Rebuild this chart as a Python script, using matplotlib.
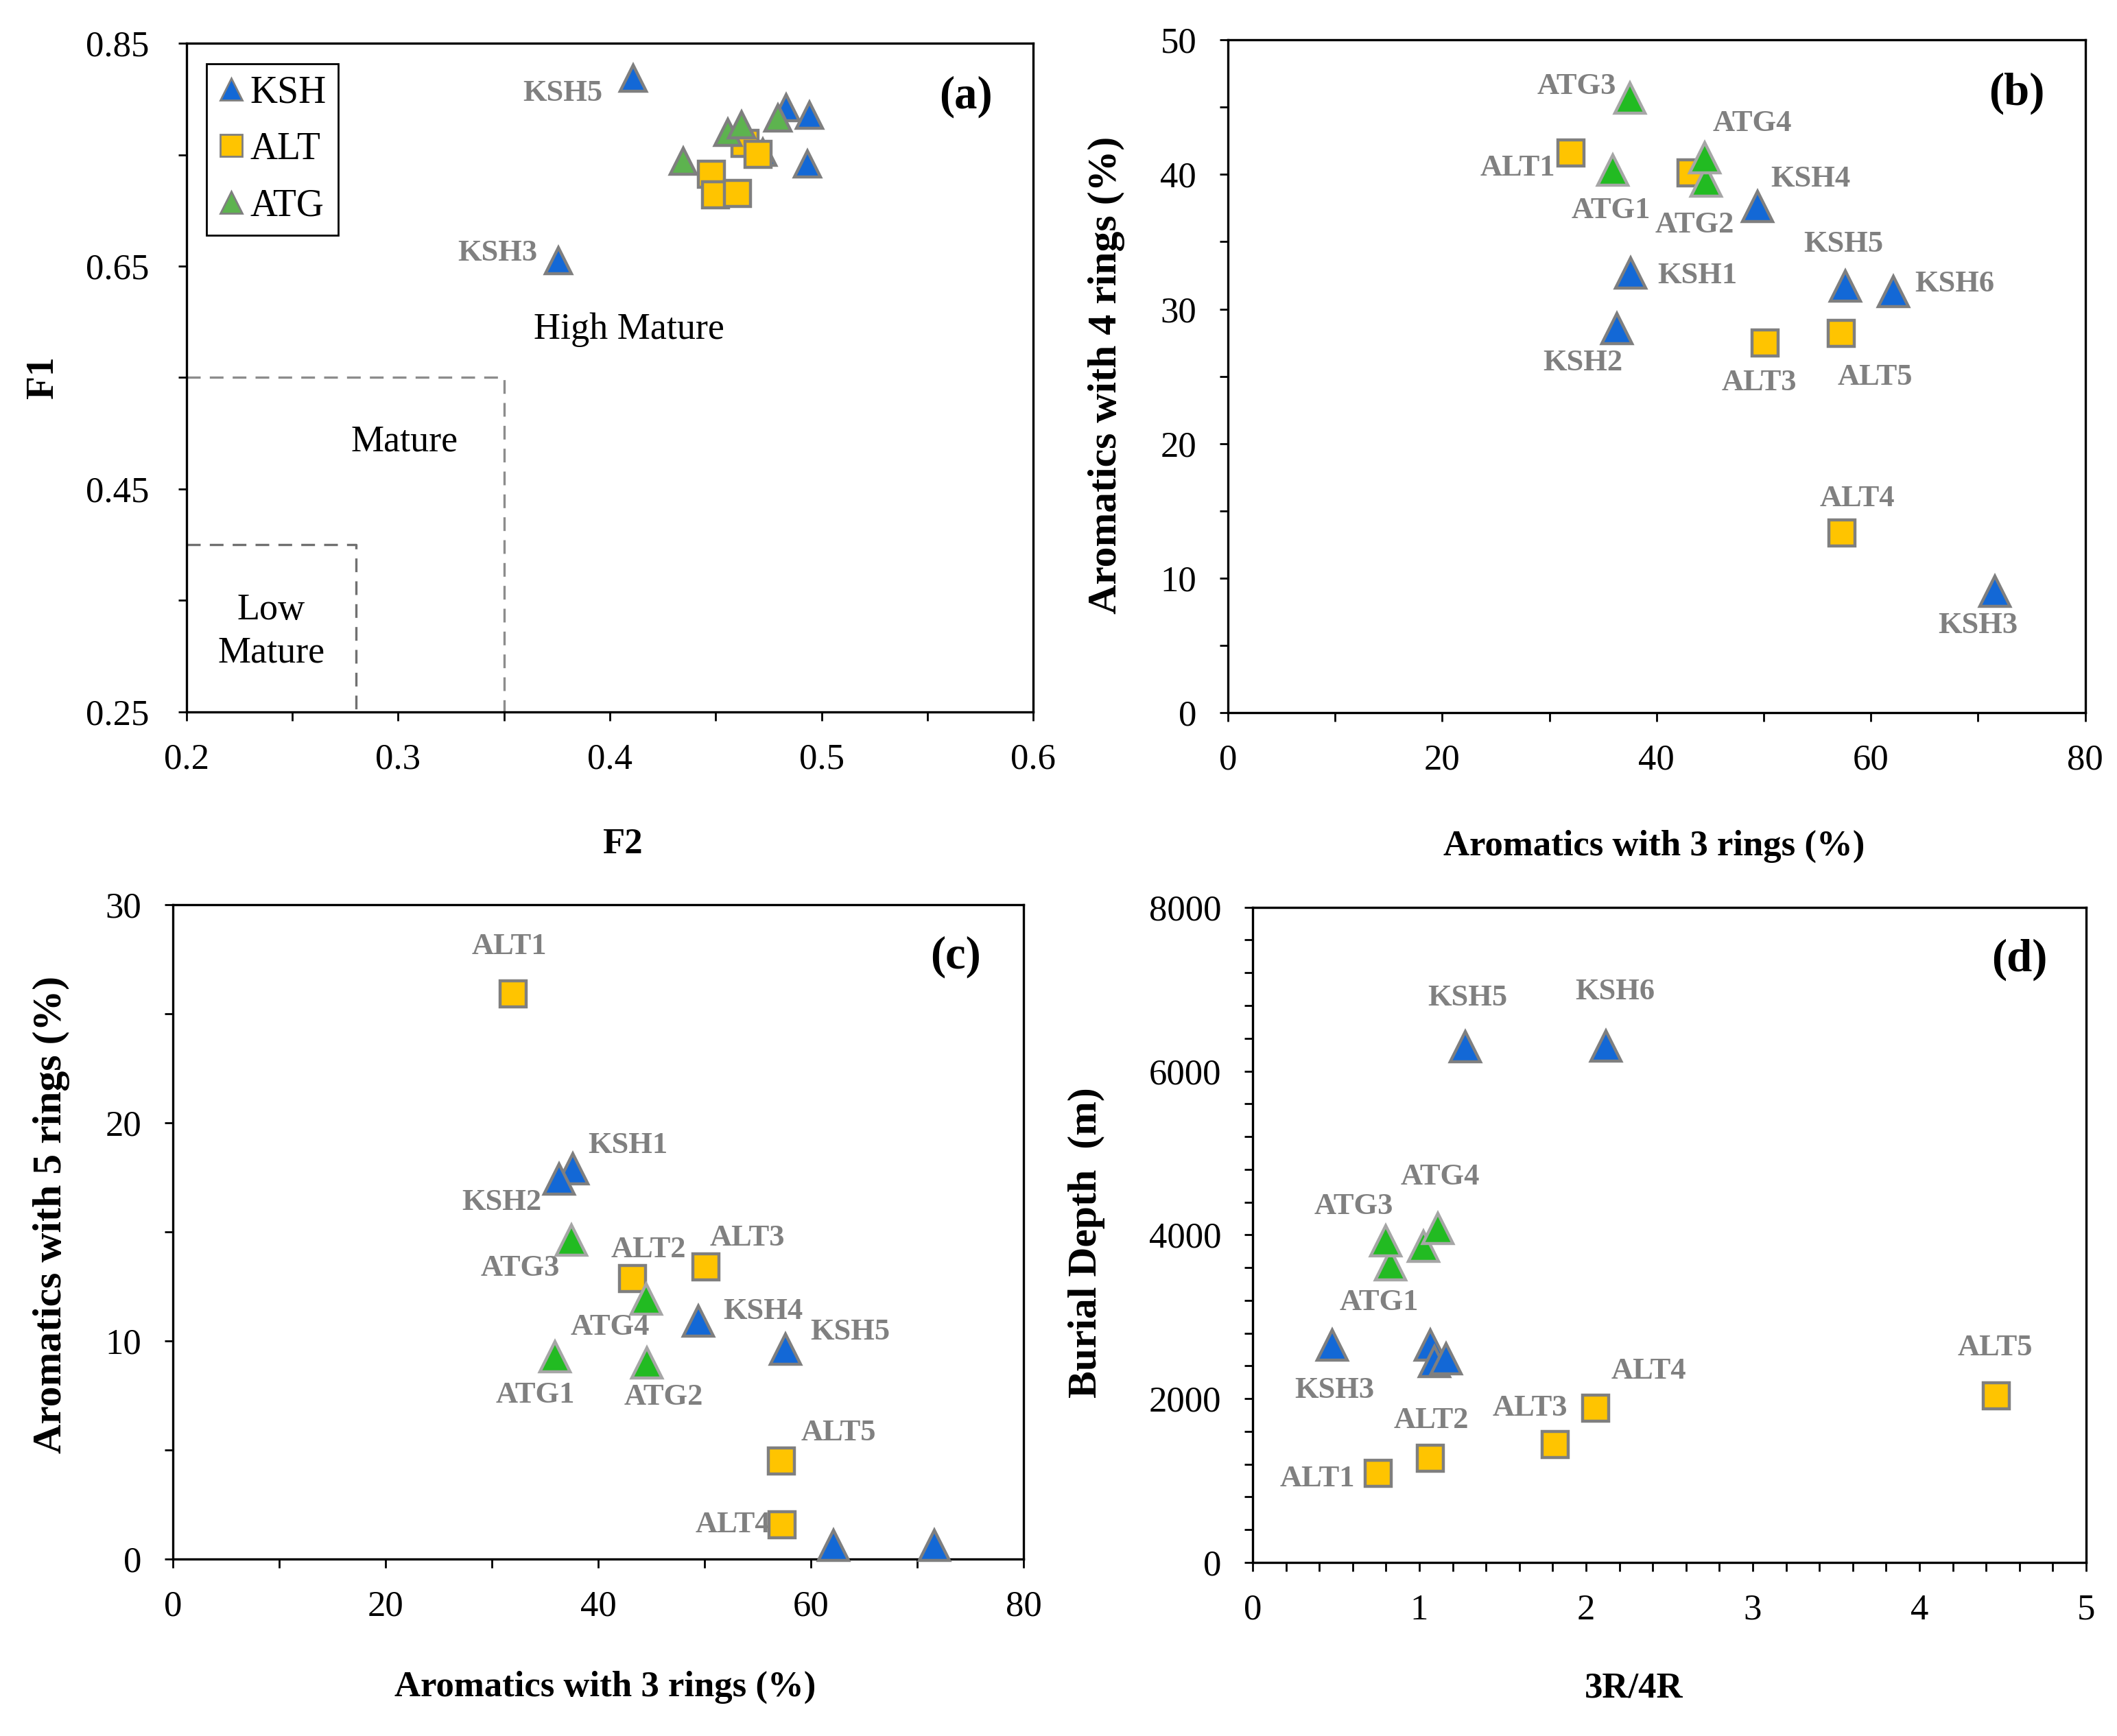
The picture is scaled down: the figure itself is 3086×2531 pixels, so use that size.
import matplotlib
matplotlib.use('Agg')
import matplotlib.pyplot as plt
from matplotlib.ticker import MultipleLocator, FormatStrFormatter
from matplotlib.lines import Line2D

plt.rcParams['font.family'] = ['Liberation Serif', 'DejaVu Serif']

# ============== data ==============
ksh_names = ['KSH1', 'KSH2', 'KSH3', 'KSH4', 'KSH5', 'KSH6']
alt_names = ['ALT1', 'ALT2', 'ALT3', 'ALT4', 'ALT5']
atg_names = ['ATG1', 'ATG2', 'ATG3', 'ATG4']

# (a) F2 vs F1
ksh_f2 = [0.4723, 0.4932, 0.3757, 0.4943, 0.411, 0.4833]
ksh_f1 = [0.7523, 0.742, 0.655, 0.7855, 0.819, 0.7923]
alt_f2 = [0.448, 0.4637, 0.4498, 0.4602, 0.470]
alt_f1 = [0.7328, 0.7605, 0.7143, 0.7153, 0.7502]
atg_f2 = [0.4347, 0.4556, 0.4622, 0.4793]
atg_f1 = [0.7445, 0.770, 0.7769, 0.783]

# aromatics with 3, 4 and 5 rings (%)
ksh_r3 = [37.6, 36.3, 71.6, 49.4, 57.6, 62.1]
alt_r3 = [32.0, 43.2, 50.1, 57.3, 57.2]
atg_r3 = [35.9, 44.6, 37.5, 44.5]

ksh_r4 = [32.7, 28.55, 9.0, 37.6, 31.7, 31.3]
alt_r4 = [41.6, 40.1, 27.5, 13.35, 28.2]
atg_r4 = [40.3, 39.5, 45.7, 41.25]

ksh_r5 = [17.9, 17.4, 0.63, 10.9, 9.6, 0.63]
alt_r5 = [25.9, 12.85, 13.4, 1.57, 4.5]
atg_r5 = [9.27, 9.0, 14.6, 11.9]

# (d) 3R/4R vs burial depth (m)
ksh_ratio = [1.067, 1.09, 0.479, 1.16, 1.274, 2.118]
ksh_depth = [2657, 2454, 2657, 2488, 6295, 6308]
alt_ratio = [0.755, 1.067, 1.814, 2.058, 4.46]
alt_depth = [1089, 1271, 1440, 1886, 2035]
atg_ratio = [0.828, 1.023, 0.80, 1.112]
atg_depth = [3638, 3861, 3928, 4077]

# maturity zone limits in (a): (F2 limit, F1 limit)
mature_limit = (0.35, 0.55)
low_mature_limit = (0.28, 0.40)

# label offsets (points), None = not labelled
a_ksh_off = [None, None, (-32, 4), None, (-37, -8), None]
b_ksh_off = [(35, -1.5), (-18, -18), (-9, -18), (28, 14.5), (-1, 22), (32, 4)]
b_alt_off = [(-28, -8), None, (-3, -21), (8, 18), (18, -23)]
b_atg_off = [(-1, -21), (-6, -23), (-28, 6), (25, 18)]
c_ksh_off = [(29, 12), (-30, -12), None, (34, 5), (34, 9), None]
c_alt_off = [(-2, 25), (8.5, 15), (22, 15), (-26, 0), (30, 14.5)]
c_atg_off = [(-10, -20), (8.5, -18), (-27, -14.5), (-19, -14.5)]
d_ksh_off = [None, None, (1, -24), None, (1.5, 25.5), (5, 28.5)]
d_alt_off = [(-32, -3), (0.5, 20), (-13, 19), (28, 19.5), (-0.5, 25)]
d_atg_off = [(-6, -20), None, (-17, 18), (1, 27)]

# ============== styles ==============
blue = '#1368D6'
yellow = '#FFC400'
green_a = '#5DB34F'
green = '#22BB22'
edge = '#7F7F7F'
edge_light = '#A6A6A6'
label_col = '#808080'


def draw_group(ax, x, y, names, offsets, marker, face, ec, ms):
    ax.plot(x, y, linestyle='none', marker=marker, markersize=ms,
            markerfacecolor=face, markeredgecolor=ec, markeredgewidth=1.6,
            clip_on=False, zorder=3)
    if offsets is None:
        return
    for xi, yi, name, off in zip(x, y, names, offsets):
        if off is None:
            continue
        ax.annotate(name, (xi, yi), xytext=off, textcoords='offset points',
                    ha='center', va='center', fontsize=16, fontweight='bold',
                    color=label_col, zorder=4)


def style_axes(ax, xlab, ylab, xlab_pos, ylab_pos, tag, ylab_size=21.5):
    for s in ax.spines.values():
        s.set_linewidth(1.2)
        s.set_color('black')
    ax.tick_params(which='both', direction='out', top=False, right=False,
                   labelsize=19, pad=12, width=1.0)
    ax.tick_params(which='major', length=4.5)
    ax.tick_params(which='minor', length=4.5)
    ax.set_xlabel(xlab, fontsize=19, fontweight='bold')
    ax.set_ylabel(ylab, fontsize=ylab_size, fontweight='bold')
    ax.xaxis.set_label_coords(*xlab_pos)
    ax.yaxis.set_label_coords(*ylab_pos)
    ax.xaxis.label.set_verticalalignment('center')
    ax.yaxis.label.set_verticalalignment('center')
    ax.text(0.92, 0.92, tag, transform=ax.transAxes, fontsize=24,
            fontweight='bold', ha='center', va='center')


fig = plt.figure(figsize=(15.43, 12.655), dpi=200)
ax_a = fig.add_axes([0.0881, 0.590, 0.400, 0.385])
ax_b = fig.add_axes([0.580, 0.5895, 0.405, 0.3875])
ax_c = fig.add_axes([0.0817, 0.102, 0.4018, 0.377])
ax_d = fig.add_axes([0.5917, 0.100, 0.3937, 0.3774])

# ---------- (a) ----------
ax = ax_a
ax.plot([0.2, mature_limit[0], mature_limit[0]], [mature_limit[1], mature_limit[1], 0.25],
        color='#8C8C8C', linestyle=(0, (6, 4)), linewidth=1.2, zorder=1)
ax.plot([0.2, low_mature_limit[0], low_mature_limit[0]],
        [low_mature_limit[1], low_mature_limit[1], 0.25],
        color='#707070', linestyle=(0, (6, 4)), linewidth=1.2, zorder=1)
draw_group(ax, ksh_f2, ksh_f1, ksh_names, a_ksh_off, '^', blue, edge, 14)
draw_group(ax, alt_f2, alt_f1, alt_names, None, 's', yellow, edge, 14)
draw_group(ax, atg_f2, atg_f1, atg_names, None, '^', green_a, edge, 14)
ax.text(0.409, 0.593, 'High Mature', fontsize=19.5, ha='center', va='center')
ax.text(0.303, 0.492, 'Mature', fontsize=19.5, ha='center', va='center')
ax.text(0.240, 0.322, 'Low\nMature', fontsize=19.5, ha='center', va='center',
        linespacing=1.3)
ax.set_xlim(0.2, 0.6)
ax.set_ylim(0.25, 0.85)
ax.xaxis.set_major_locator(MultipleLocator(0.1))
ax.xaxis.set_minor_locator(MultipleLocator(0.05))
ax.xaxis.set_major_formatter(FormatStrFormatter('%.1f'))
ax.set_yticks([0.25, 0.45, 0.65, 0.85])
ax.set_yticks([0.35, 0.55, 0.75], minor=True)
ax.yaxis.set_major_formatter(FormatStrFormatter('%.2f'))
style_axes(ax, 'F2', 'F1', (0.515, -0.198), (-0.169, 0.5), '(a)', ylab_size=20)
ax.tick_params(axis='y', pad=15)
handles = [
    Line2D([], [], linestyle='none', marker='^', markersize=11.5,
           markerfacecolor=blue, markeredgecolor=edge, markeredgewidth=1.0),
    Line2D([], [], linestyle='none', marker='s', markersize=11.5,
           markerfacecolor=yellow, markeredgecolor=edge, markeredgewidth=1.0),
    Line2D([], [], linestyle='none', marker='^', markersize=11.5,
           markerfacecolor=green_a, markeredgecolor=edge, markeredgewidth=1.0),
]
leg = ax.legend(handles, ['KSH', 'ALT', 'ATG'], loc='upper left',
                bbox_to_anchor=(0.0235, 0.970), borderaxespad=0, fontsize=20,
                handlelength=0.7, handletextpad=0.15, labelspacing=0.55,
                borderpad=0.3, fancybox=False, framealpha=1)
leg.get_frame().set_edgecolor('black')
leg.get_frame().set_linewidth(1.0)

# ---------- (b) ----------
ax = ax_b
draw_group(ax, ksh_r3, ksh_r4, ksh_names, b_ksh_off, '^', blue, edge, 16)
draw_group(ax, alt_r3, alt_r4, alt_names, b_alt_off, 's', yellow, edge, 14)
draw_group(ax, atg_r3, atg_r4, atg_names, b_atg_off, '^', green, edge_light, 16)
ax.set_xlim(0, 80)
ax.set_ylim(0, 50)
ax.xaxis.set_major_locator(MultipleLocator(20))
ax.xaxis.set_minor_locator(MultipleLocator(10))
ax.yaxis.set_major_locator(MultipleLocator(10))
ax.yaxis.set_minor_locator(MultipleLocator(5))
style_axes(ax, 'Aromatics with 3 rings (%)', 'Aromatics with 4 rings (%)',
           (0.497, -0.199), (-0.142, 0.502), '(b)')

# ---------- (c) ----------
ax = ax_c
draw_group(ax, ksh_r3, ksh_r5, ksh_names, c_ksh_off, '^', blue, edge, 16)
draw_group(ax, alt_r3, alt_r5, alt_names, c_alt_off, 's', yellow, edge, 14)
draw_group(ax, atg_r3, atg_r5, atg_names, c_atg_off, '^', green, edge_light, 16)
ax.set_xlim(0, 80)
ax.set_ylim(0, 30)
ax.xaxis.set_major_locator(MultipleLocator(20))
ax.xaxis.set_minor_locator(MultipleLocator(10))
ax.yaxis.set_major_locator(MultipleLocator(10))
ax.yaxis.set_minor_locator(MultipleLocator(5))
style_axes(ax, 'Aromatics with 3 rings (%)', 'Aromatics with 5 rings (%)',
           (0.508, -0.196), (-0.143, 0.526), '(c)')

# ---------- (d) ----------
ax = ax_d
draw_group(ax, ksh_ratio, ksh_depth, ksh_names, d_ksh_off, '^', blue, edge, 16)
draw_group(ax, alt_ratio, alt_depth, alt_names, d_alt_off, 's', yellow, edge, 14)
draw_group(ax, atg_ratio, atg_depth, atg_names, d_atg_off, '^', green, edge_light, 16)
ax.set_xlim(0, 5)
ax.set_ylim(0, 8000)
ax.xaxis.set_major_locator(MultipleLocator(1))
ax.xaxis.set_minor_locator(MultipleLocator(0.2))
ax.yaxis.set_major_locator(MultipleLocator(2000))
ax.yaxis.set_minor_locator(MultipleLocator(400))
style_axes(ax, '3R/4R', 'Burial Depth  (m)', (0.457, -0.192), (-0.199, 0.488), '(d)')

fig.savefig('out.png', dpi=200)
